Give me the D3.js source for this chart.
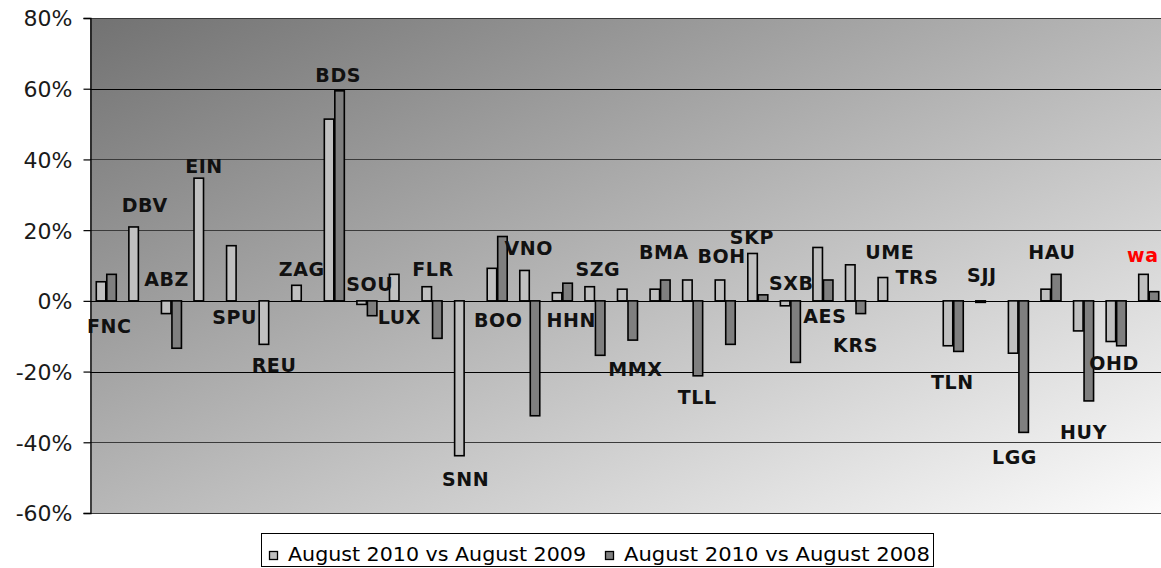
<!DOCTYPE html>
<html>
<head>
<meta charset="utf-8">
<script src="https://cdn.jsdelivr.net/npm/d3@7"></script>
<style>
  html, body { margin: 0; padding: 0; background: #fff; }
  svg { display: block; }
</style>
</head>
<body>
<svg id="chart" width="1161" height="568"></svg>
<script>
// airport codes, one group of bars each
const airports = ['FNC', 'DBV', 'ABZ', 'EIN', 'SPU', 'REU', 'ZAG', 'BDS', 'SOU', 'LUX', 'FLR',
  'SNN', 'BOO', 'VNO', 'HHN', 'SZG', 'MMX', 'BMA', 'TLL', 'BOH', 'SKP', 'SXB', 'AES', 'KRS',
  'UME', 'TRS', 'TLN', 'SJJ', 'LGG', 'HAU', 'HUY', 'OHD', 'wa']

const seriesNames = ['August 2010 vs August 2009', 'August 2010 vs August 2008']

// change in %, null where there is no bar
const vs2009 = [5.4, 20.9, -3.6, 34.7, 15.6, -12.3, 4.4, 51.4, -1.0, 7.5, 4.0,
  -43.8, 9.2, 8.6, 2.3, 4.0, 3.3, 3.3, 5.9, 5.9, 13.4, -1.4, 15.1, 10.2,
  6.6, null, -12.7, -0.4, -14.8, 3.3, -8.5, -11.5, 7.5]
const vs2008 = [7.5, null, -13.4, null, null, null, null, 59.4, -4.2, null, -10.6,
  null, 18.2, -32.5, 5.0, -15.4, -11.1, 5.9, -21.2, -12.3, 1.7, -17.4, 5.9, -3.6,
  null, null, -14.3, null, -37.2, 7.5, -28.3, -12.7, 2.6]

// where each code label sits: value level (%) and shift along the band (fraction of band)
const labelLevel = [-7.1, 27.2, 6.1, 38.2, -4.7, -18.1, 9.0, 63.8, 4.7, -4.7, 9.0,
  -50.4, -5.4, 14.8, -5.4, 9.0, -19.3, 13.7, -27.3, 12.6, 17.9, 5.0, -4.4, -12.4,
  13.9, 6.6, -22.9, 7.3, -44.3, 13.7, -37.1, -17.7, 13.0]
const labelShift = [0.09, 0.18, -0.15, 0, -0.06, 0.15, 0, 0.12, 0.09, 0, 0.03,
  0.03, 0.03, -0.03, 0.27, 0.09, 0.24, 0.12, 0.14, -0.11, -0.18, 0.03, 0.06, 0,
  0.05, -0.11, -0.03, -0.12, -0.12, 0.03, 0, -0.06, -0.18]

const yTicks = [-60, -40, -20, 0, 20, 40, 60, 80]

const colors = ['#c0c0c0', '#7f7f7f']

const svg = d3.select('#chart')
const plotLeft = 90, plotTop = 18, plotRight = 1165, plotBottom = 513

const x = d3.scaleBand().domain(airports).range([plotLeft, plotRight]).padding(0)
const xIn = d3.scaleBand().domain([0, 1])
  .range([x.bandwidth() / 2 - 10.5, x.bandwidth() / 2 + 10.5])
const y = d3.scaleLinear().domain([-60, 80]).range([plotBottom, plotTop])

// plot background, dark top-left fading to white bottom-right
const grad = svg.append('defs').append('linearGradient')
  .attr('id', 'bg').attr('x1', 0).attr('y1', 0).attr('x2', 1).attr('y2', 1)
grad.append('stop').attr('offset', 0).attr('stop-color', '#727272')
grad.append('stop').attr('offset', 1).attr('stop-color', '#fcfcfc')

svg.append('rect')
  .attr('x', plotLeft).attr('y', plotTop)
  .attr('width', plotRight - plotLeft).attr('height', plotBottom - plotTop)
  .attr('fill', 'url(#bg)')

// gridlines
svg.append('g')
  .selectAll('line')
  .data(yTicks)
  .join('line')
  .attr('x1', plotLeft).attr('x2', plotRight)
  .attr('y1', (d) => Math.round(y(d)) + 0.5)
  .attr('y2', (d) => Math.round(y(d)) + 0.5)
  .attr('stroke', (d) => (d === 0 || d === 60 || d === -20 ? '#000' : '#3a3a3a'))
  .attr('stroke-width', 1.2)

// y axis
const yAxis = svg.append('g')
  .attr('transform', `translate(${plotLeft + 0.5},0)`)
  .call(d3.axisLeft(y).tickValues(yTicks).tickSize(7).tickPadding(11)
    .tickFormat((d) => d + '%'))
yAxis.select('.domain').attr('stroke', '#000').attr('stroke-width', 1.3)
yAxis.selectAll('.tick line').attr('stroke', '#000').attr('stroke-width', 1.2)
yAxis.selectAll('.tick text')
  .attr('font-family', 'DejaVu Sans, Verdana, sans-serif')
  .attr('font-size', 22)
  .attr('fill', '#1a1a1a')
  .attr('dy', '0.36em')

// bars
const rows = airports.map((a, i) => ({a, vals: [vs2009[i], vs2008[i]]}))
const groups = svg.append('g')
  .selectAll('g')
  .data(rows)
  .join('g')
  .attr('transform', (d) => `translate(${x(d.a)},0)`)

groups.selectAll('rect')
  .data((d) => d.vals.map((v, s) => ({v, s})).filter((e) => e.v !== null))
  .join('rect')
  .attr('x', (d) => xIn(d.s) + 0.5)
  .attr('width', xIn.bandwidth() - 1)
  .attr('y', (d) => y(Math.max(0, d.v)))
  .attr('height', (d) => Math.max(Math.abs(y(d.v) - y(0)), 1.5))
  .attr('fill', (d) => colors[d.s])
  .attr('stroke', '#000')
  .attr('stroke-width', 1.6)

// code labels
svg.append('g')
  .selectAll('text')
  .data(airports)
  .join('text')
  .attr('x', (d, i) => x(d) + x.bandwidth() / 2 + labelShift[i] * x.bandwidth())
  .attr('y', (d, i) => y(labelLevel[i]))
  .attr('dy', '0.36em')
  .attr('text-anchor', 'middle')
  .attr('font-family', 'DejaVu Sans, Verdana, sans-serif')
  .attr('font-weight', 'bold')
  .attr('font-size', 19)
  .attr('letter-spacing', 0.6)
  .attr('fill', (d) => (d === 'wa' ? '#ff0000' : '#111'))
  .text((d) => d)

// legend
const legend = svg.append('g')
legend.append('rect')
  .attr('x', 261.5).attr('y', 533.5).attr('width', 672).attr('height', 33)
  .attr('fill', '#fff').attr('stroke', '#000').attr('stroke-width', 1)

const legendX = [269, 605]
const items = legend.selectAll('g.item')
  .data(seriesNames)
  .join('g')
  .attr('class', 'item')
  .attr('transform', (d, i) => `translate(${legendX[i]},0)`)
items.append('rect')
  .attr('x', 0.5).attr('y', 551.5).attr('width', 8).attr('height', 8)
  .attr('fill', (d, i) => colors[i]).attr('stroke', '#000').attr('stroke-width', 1.3)
items.append('text')
  .attr('x', 19).attr('y', 561)
  .attr('font-family', 'DejaVu Sans, Verdana, sans-serif')
  .attr('font-size', 19)
  .attr('textLength', (d, i) => (i === 0 ? 298 : 306))
  .attr('lengthAdjust', 'spacingAndGlyphs')
  .attr('fill', '#000')
  .text((d) => d)
</script>
</body>
</html>
